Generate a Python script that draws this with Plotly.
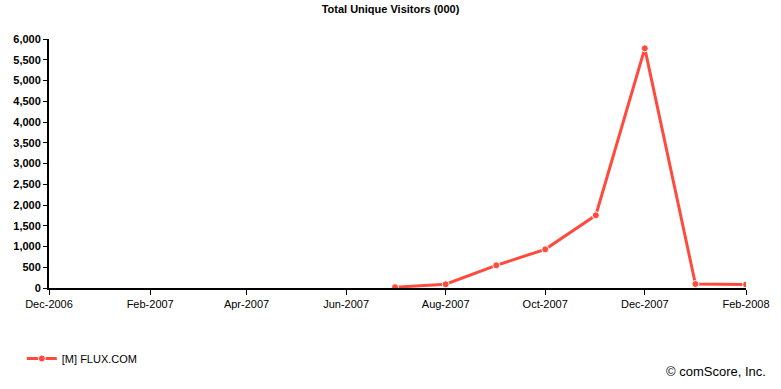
import plotly.graph_objects as go

months = ["2007-07-01", "2007-08-01", "2007-09-01", "2007-10-01",
          "2007-11-01", "2007-12-01", "2008-01-01", "2008-02-01"]
visitors = [20, 90, 547, 932, 1752, 5775, 96, 85]
series_name = "[M] FLUX.COM"
title = "Total Unique Visitors (000)"
y_ticks = list(range(0, 6001, 500))

fig = go.Figure()
fig.add_trace(go.Scatter(
    x=months, y=visitors, mode="lines+markers", name=series_name,
    line=dict(color="#FF4A3D", width=3),
    marker=dict(size=7, color="#FF4A3D", line=dict(color="white", width=1)),
))

fig.update_layout(
    width=781, height=389,
    margin=dict(l=49, r=35, t=39, b=101, autoexpand=False),
    paper_bgcolor="white", plot_bgcolor="white",
    font=dict(family="Liberation Sans, Arial, sans-serif", size=11, color="black"),
    title=dict(text=title, x=0.5, xanchor="center", yref="container",
               y=0.986, yanchor="top",
               font=dict(size=11, weight="bold")),
    showlegend=True,
    legend=dict(orientation="h", x=-0.039, xanchor="left",
                yref="container", y=0.1157, yanchor="top",
                font=dict(size=11), itemwidth=30),
)
fig.update_xaxes(
    type="date", range=["2006-12-01", "2008-02-01"],
    dtick="M2", tick0="2006-12-01", tickformat="%b-%Y",
    showline=True, linecolor="black", linewidth=2,
    ticks="outside", ticklen=5, tickcolor="black",
    showgrid=False, zeroline=False, automargin=False,
)
fig.update_yaxes(
    range=[0, 6000], tickvals=y_ticks, tickformat=",",
    showline=True, linecolor="black", linewidth=2,
    ticks="outside", ticklen=4, tickcolor="black",
    tickfont=dict(weight="bold", size=11),
    showgrid=False, zeroline=False, automargin=False,
)
fig.add_annotation(text="© comScore, Inc.", xref="paper", yref="paper",
                   x=(768 - 49) / 697, y=-(362 - 288) / 249,
                   xanchor="right", yanchor="top",
                   showarrow=False, font=dict(size=13))

fig.write_html("out.html",
               config={"displayModeBar": False},
               post_script="document.body.style.margin='0';document.body.style.overflow='hidden';")
